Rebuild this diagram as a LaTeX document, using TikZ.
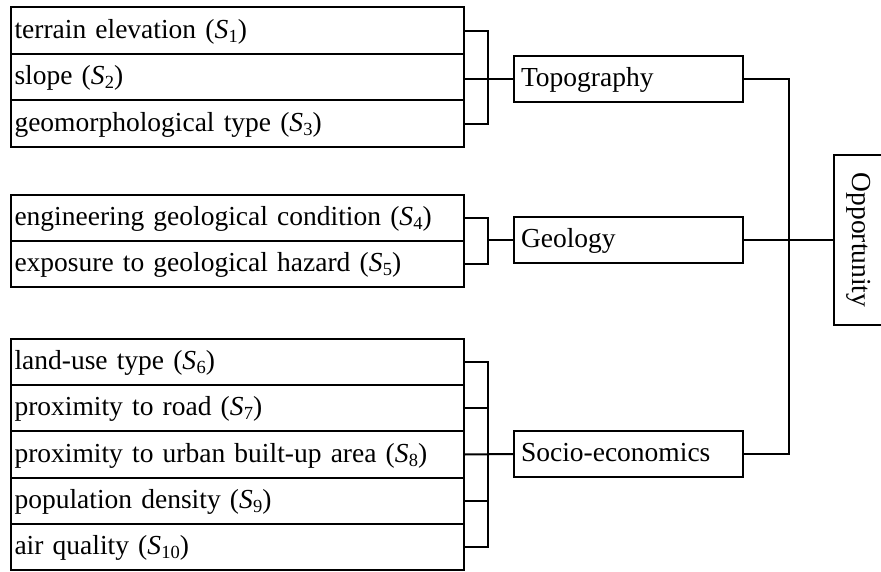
\documentclass[tikz,border=0pt]{standalone}
\usepackage{fontspec}
\setmainfont{Liberation Serif}
\newcommand\Sx[1]{(\textit{S}\kern0.3pt\raisebox{-4pt}{\fontsize{18.5}{18.5}\selectfont #1})}
\begin{document}
\begin{tikzpicture}[x=1pt,y=-1pt,
  every node/.style={font=\fontsize{27.5}{30}\selectfont},
  row/.style={draw, line width=2pt, minimum width=453, text width=446, inner xsep=3.5, align=left, inner ysep=0, text height=20, text depth=5},
  cat/.style={draw, line width=2pt, minimum width=229, minimum height=46, text width=215, inner xsep=7, align=left, inner ysep=0, text height=20, text depth=5},
  conn/.style={line width=2pt}]
\useasboundingbox (0,0) rectangle (881,572);
% group 1
\node[row, minimum height=46.5] (r1) at (237.5,30.75) {terrain elevation \Sx{1}};
\node[row, minimum height=46.5] (r2) at (237.5,77.25) {slope \Sx{2}};
\node[row, minimum height=46.5] (r3) at (237.5,123.75) {geomorphological type \Sx{3}};
% group 2
\node[row, minimum height=46] (r4) at (237.5,218) {engineering geological condition \Sx{4}};
\node[row, minimum height=46] (r5) at (237.5,264) {exposure to geological hazard \Sx{5}};
% group 3
\node[row, minimum height=46.2] (r6) at (237.5,362.1) {land-use type \Sx{6}};
\node[row, minimum height=46.2] (r7) at (237.5,408.3) {proximity to road \Sx{7}};
\node[row, minimum height=46.2] (r8) at (237.5,454.5) {proximity to urban built-up area \Sx{8}};
\node[row, minimum height=46.2] (r9) at (237.5,500.7) {population density \Sx{9}};
\node[row, minimum height=46.2] (r10) at (237.5,546.9) {air quality \Sx{10}};
% categories
\node[cat] (topo) at (628.5,79) {Topography};
\node[cat] (geo) at (628.5,240) {Geology};
\node[cat] (soc) at (628.5,454) {Socio-economics};
\node[draw, line width=2pt, minimum width=50, minimum height=170, inner sep=0] (opp) at (859,240) {\rotatebox{-90}{Opportunity}};
% bracket columns
\coordinate (bx) at (488,0);
\coordinate (vx) at (789,0);
% group 1 bracket
\draw[conn] (r1.east) -- (r1.east -| bx) -- (r3.east -| bx) -- (r3.east);
\draw[conn] (topo.west -| r2.east) -- (topo.west);
% group 2 bracket
\draw[conn] (r4.east) -- (r4.east -| bx) -- (r5.east -| bx) -- (r5.east);
\draw[conn] (bx |- geo.west) -- (geo.west);
% group 3 bracket
\draw[conn] (r6.east) -- (r6.east -| bx) -- (r10.east -| bx) -- (r10.east);
\draw[conn] (r7.east) -- (r7.east -| bx);
\draw[conn] (r9.east) -- (r9.east -| bx);
\draw[conn] (r8.east) -- (soc.west);
% right side
\draw[conn] (topo.east) -- (topo.east -| vx) -- (soc.east -| vx) -- (soc.east);
\draw[conn] (geo.east) -- (opp.west);
\end{tikzpicture}
\end{document}
